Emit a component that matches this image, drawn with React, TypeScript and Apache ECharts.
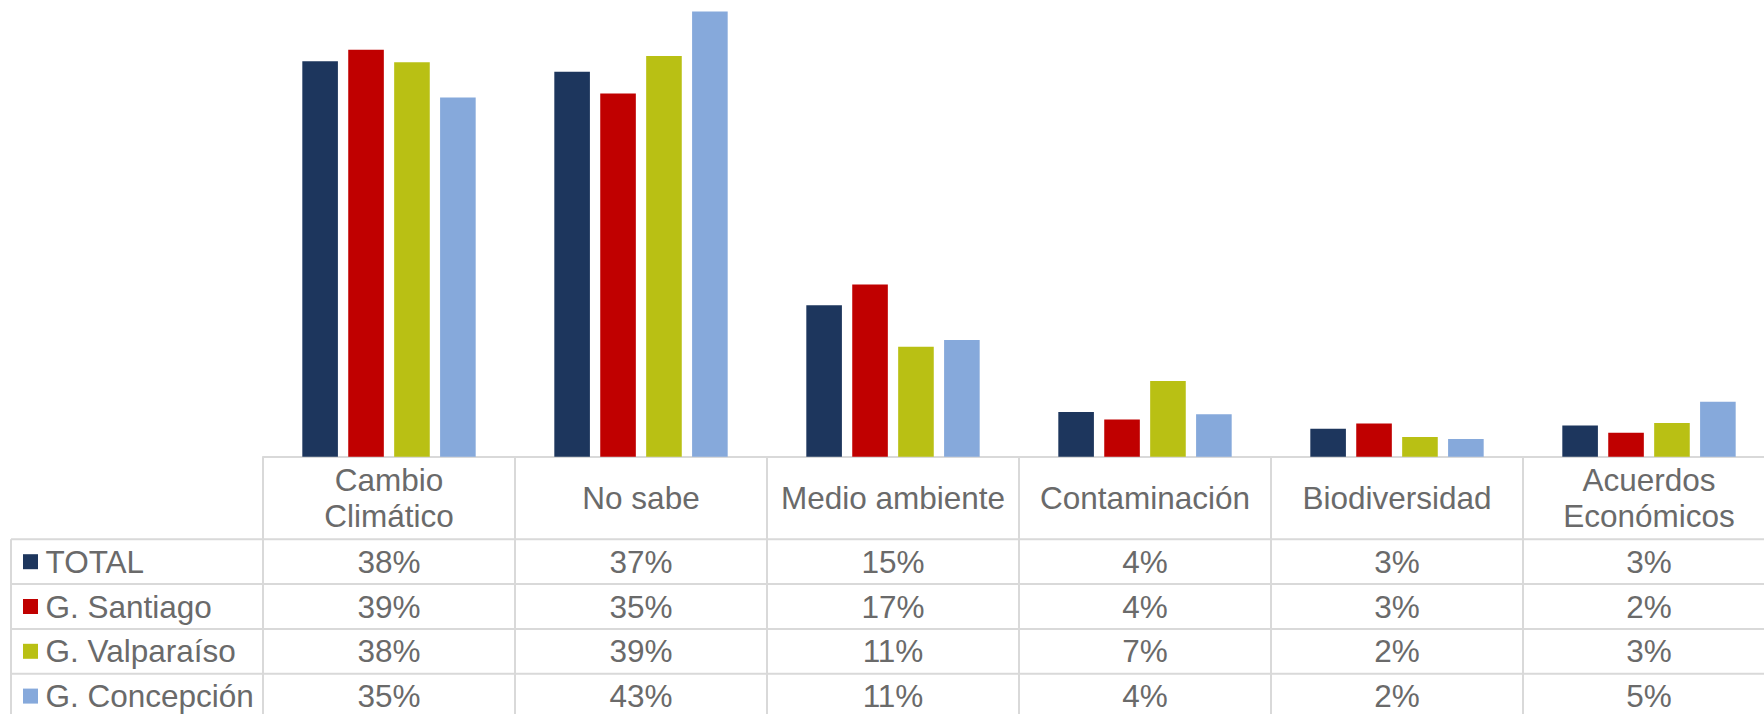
import React, { useEffect, useRef } from "react";
import * as echarts from "echarts";

const categories = [
  "Cambio\nClimático",
  "No sabe",
  "Medio ambiente",
  "Contaminación",
  "Biodiversidad",
  "Acuerdos\nEconómicos",
];
const seriesNames = ["TOTAL", "G. Santiago", "G. Valparaíso", "G. Concepción"];
const totalValues = [38.1, 37.1, 14.6, 4.3, 2.7, 3.0];
const santiagoValues = [39.2, 35.0, 16.6, 3.6, 3.2, 2.3];
const valparaisoValues = [38.0, 38.6, 10.6, 7.3, 1.9, 3.25];
const concepcionValues = [34.6, 42.9, 11.25, 4.1, 1.7, 5.3];
const seriesColors = ["#1d365d", "#c00000", "#b9c014", "#86a9db"];

const allValues = [totalValues, santiagoValues, valparaisoValues, concepcionValues];

const GRID_LEFT = 263;
const COL_W = 252;
const TABLE_RIGHT = GRID_LEFT + COL_W * categories.length; // extends past the 1764px window
const W = TABLE_RIGHT + 2;
const H = 714;
const BASELINE = 456.75;
const HEADER_BOTTOM = 539.3;
const ROW_H = 44.8;
const TABLE_LEFT = 11;
const LINE_COLOR = "#d9d9d9";
const TEXT_COLOR = "#6a6a6a";
const FONT = "'Liberation Sans', Arial, Helvetica, sans-serif";
const FS = 31.5;

export default function App() {
  const ref = useRef<HTMLDivElement>(null);

  useEffect(() => {
    document.body.style.margin = "0";
    document.body.style.overflow = "hidden";
    if (!ref.current) return;
    const chart = echarts.init(ref.current, undefined, { renderer: "svg" });

    const graphics: any[] = [];
    for (let r = 0; r < seriesNames.length; r++) {
      const y = HEADER_BOTTOM + r * ROW_H;
      graphics.push({
        type: "line",
        shape: { x1: TABLE_LEFT, y1: y, x2: TABLE_RIGHT, y2: y },
        style: { stroke: LINE_COLOR, lineWidth: 2 },
        silent: true,
      });
    }
    graphics.push({
      type: "line",
      shape: { x1: TABLE_LEFT, y1: HEADER_BOTTOM, x2: TABLE_LEFT, y2: H + 10 },
      style: { stroke: LINE_COLOR, lineWidth: 2 },
      silent: true,
    });
    seriesNames.forEach((name, r) => {
      const cy = HEADER_BOTTOM + r * ROW_H + ROW_H / 2;
      graphics.push({
        type: "rect",
        shape: { x: 23, y: cy - 7.5, width: 15, height: 15 },
        style: { fill: seriesColors[r] },
        silent: true,
      });
      graphics.push({
        type: "text",
        x: 45.5,
        y: cy,
        style: {
          text: name,
          fill: TEXT_COLOR,
          font: `${FS}px ${FONT}`,
          textAlign: "left",
          textVerticalAlign: "middle",
          verticalAlign: "middle",
        },
        silent: true,
      });
      allValues[r].forEach((v, c) => {
        graphics.push({
          type: "text",
          x: GRID_LEFT + COL_W * (c + 0.5),
          y: cy,
          style: {
            text: `${Math.round(v)}%`,
            fill: TEXT_COLOR,
            font: `${FS}px ${FONT}`,
            textAlign: "center",
            textVerticalAlign: "middle",
            verticalAlign: "middle",
          },
          silent: true,
        });
      });
    });

    chart.setOption({
      animation: false,
      backgroundColor: "#ffffff",
      grid: {
        left: GRID_LEFT,
        right: W - TABLE_RIGHT,
        top: 0,
        bottom: H - BASELINE,
        containLabel: false,
      },
      xAxis: {
        type: "category",
        data: categories,
        boundaryGap: true,
        axisLine: { show: true, lineStyle: { color: LINE_COLOR, width: 2 } },
        axisTick: {
          show: true,
          interval: 0,
          length: H - BASELINE + 10,
          lineStyle: { color: LINE_COLOR, width: 2 },
        },
        axisLabel: {
          interval: 0,
          margin: 41,
          verticalAlign: "middle",
          lineHeight: 36,
          color: TEXT_COLOR,
          fontSize: FS,
          fontFamily: FONT,
        },
        splitLine: { show: false },
      },
      yAxis: {
        type: "value",
        min: 0,
        max: 44,
        show: false,
        splitLine: { show: false },
      },
      series: seriesNames.map((name, i) => ({
        name,
        type: "bar",
        data: allValues[i],
        barCategoryGap: "31.2%",
        barGap: "29%",
        itemStyle: { color: seriesColors[i] },
      })),
      graphic: graphics,
    });

    return () => {
      chart.dispose();
    };
  }, []);

  return (
    <div
      ref={ref}
      style={{ position: "fixed", left: 0, top: 0, width: W, height: H, background: "#fff" }}
    />
  );
}
